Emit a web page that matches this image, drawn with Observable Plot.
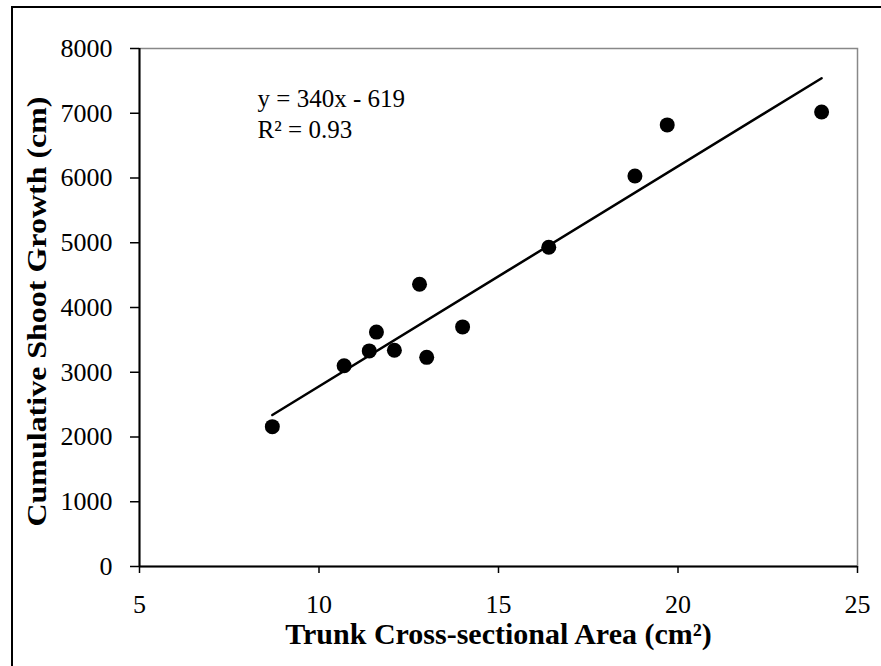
<!DOCTYPE html>
<html>
<head>
<meta charset="utf-8">
<script src="https://cdn.jsdelivr.net/npm/d3@7"></script>
<script src="https://cdn.jsdelivr.net/npm/@observablehq/plot@0.6"></script>
<style>
  html, body { margin: 0; padding: 0; background: #fff; }
  #wrap { position: relative; width: 881px; height: 666px; overflow: hidden; }
  #border { position: absolute; left: 11px; top: 6px; width: 900px; height: 700px; border: 2px solid #000; box-sizing: border-box; pointer-events: none; }
</style>
</head>
<body>
<div id="wrap"><div id="border"></div></div>
<script>
// Data
const trunkArea = [8.7, 10.7, 11.4, 11.6, 12.1, 12.8, 13.0, 14.0, 16.4, 18.8, 19.7, 24.0];
const shootGrowth = [2160, 3100, 3330, 3620, 3340, 4360, 3230, 3700, 4930, 6030, 6820, 7020];
const trendSlope = 340;
const trendIntercept = -619;
const trendX = [8.7, 24.0];
const xTicks = [5, 10, 15, 20, 25];
const yTicks = [0, 1000, 2000, 3000, 4000, 5000, 6000, 7000, 8000];
const equationText = "y = 340x - 619\nR² = 0.93";
const xTitle = "Trunk Cross-sectional Area (cm²)";
const yTitle = "Cumulative Shoot Growth (cm)";

const points = trunkArea.map((x, i) => ({x, y: shootGrowth[i]}));
const trend = trendX.map(x => ({x, y: trendSlope * x + trendIntercept}));

const font = "'Liberation Serif', 'Times New Roman', serif";

const chart = Plot.plot({
  width: 881,
  height: 666,
  marginLeft: 139,
  marginRight: 24,
  marginTop: 48,
  marginBottom: 100,
  style: {fontFamily: font, fontSize: "26px", color: "#000", background: "transparent"},
  x: {domain: [5, 25]},
  y: {domain: [0, 8000]},
  marks: [
    Plot.frame({stroke: "#888", strokeWidth: 1.5}),
    Plot.ruleX([5], {stroke: "#000", strokeWidth: 2}),
    Plot.ruleY([0], {stroke: "#000", strokeWidth: 2}),
    Plot.axisY({ticks: yTicks, tickSize: 9, tickPadding: 18, tickFormat: d => String(d), label: null, fontSize: 26, strokeWidth: 1.5}),
    Plot.axisX({ticks: xTicks, tickSize: 7, tickPadding: 21, tickFormat: d => String(d), label: null, fontSize: 26, strokeWidth: 1.5}),
    Plot.line(trend, {x: "x", y: "y", stroke: "#000", strokeWidth: 2.5}),
    Plot.dot(points, {x: "x", y: "y", r: 7.5, fill: "#000", stroke: "none"}),
    Plot.text([equationText], {x: 8.29, y: 7430, text: d => d, textAnchor: "start", lineAnchor: "top", lineHeight: 1.22, fontSize: 25, fill: "#000"}),
    Plot.text([xTitle], {frameAnchor: "bottom", dy: 77, lineAnchor: "bottom", text: d => d, fontSize: 30, fontWeight: "bold", fill: "#000"}),
    Plot.text([yTitle], {frameAnchor: "left", dx: -94, dy: 4, rotate: -90, textAnchor: "middle", lineAnchor: "bottom", text: d => d, fontSize: 27, fontWeight: "bold", fill: "#000"})
  ]
});
// stretch the y title along its length, as in the reference
d3.select(chart).selectAll("text").filter(function() { return this.textContent === yTitle; })
  .attr("textLength", 430).attr("lengthAdjust", "spacingAndGlyphs");
document.getElementById("wrap").prepend(chart);
</script>
</body>
</html>
